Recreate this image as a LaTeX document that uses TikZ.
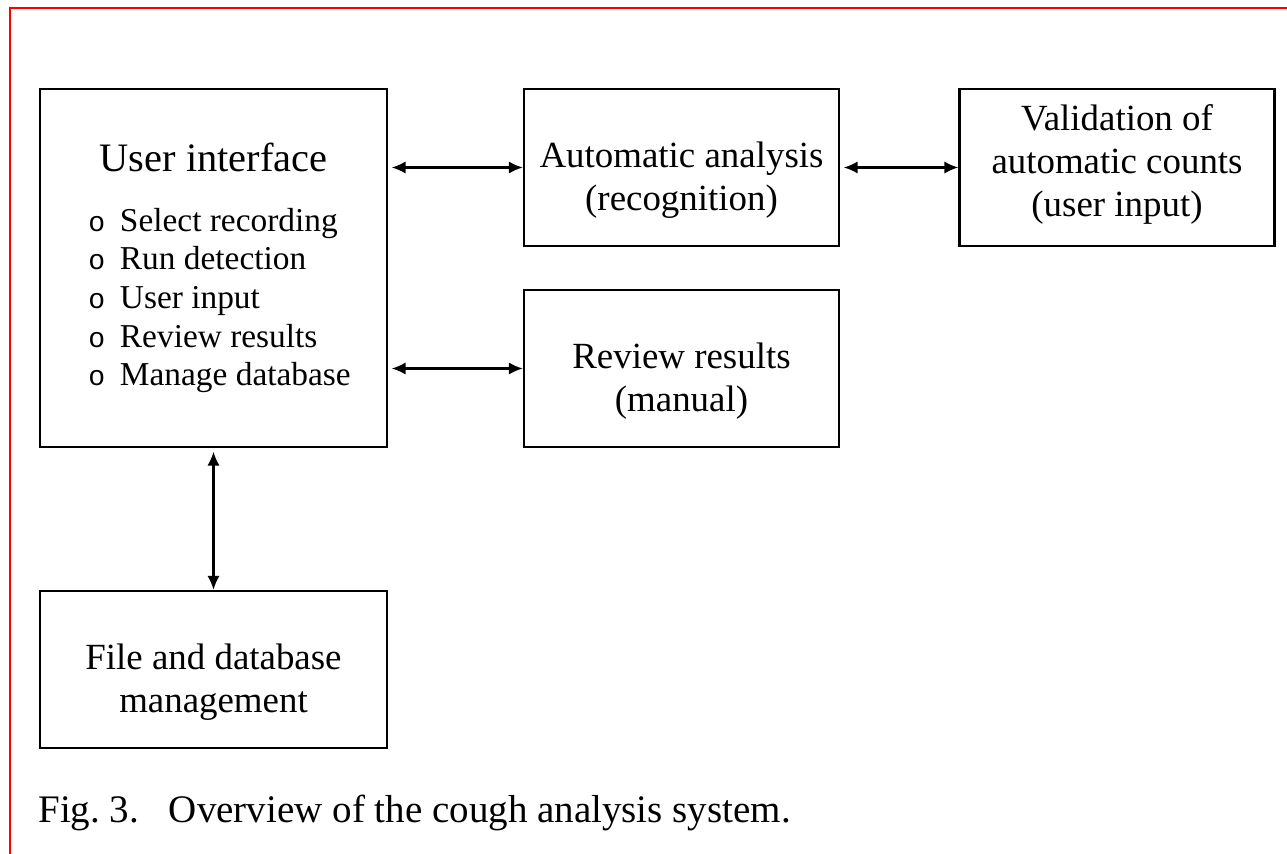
\documentclass[tikz,border=0pt]{standalone}
\usepackage{fontspec}
\setmainfont{Liberation Serif}
\newfontfamily\bulletfont{Liberation Mono}
\usetikzlibrary{arrows.meta, positioning}

\newcommand{\listbullet}{\makebox[18pt][l]{\fontsize{16}{16}\bulletfont o}}

\begin{document}
\begin{tikzpicture}[x=0.02cm, y=-0.02cm,
  box/.style={rectangle, draw, line width=1.2pt},
  boxtext/.style={align=center, font=\fontsize{21}{24.5}\selectfont},
  arrowline/.style={{Latex[length=8pt,width=7pt]}-{Latex[length=8pt,width=7pt]}, line width=1.4pt},
  frameline/.style={red, line width=1.2pt}
]
  \useasboundingbox (0,0) rectangle (1287,854);
  \draw[frameline] (10,854) -- (10,8) -- (1287,8);

  % boxes
  \node[box, minimum width=6.94cm, minimum height=7.16cm] (ui) at (213.5,268) {};
  \node[box, minimum width=6.3cm, minimum height=3.14cm] (auto) at (681.5,167.5) {};
  \node[box, minimum width=6.3cm, minimum height=3.14cm] (valid) at (1117,167.5) {};
  \node[box, minimum width=6.3cm, minimum height=3.14cm] (review) at (681.5,368.5) {};
  \node[box, minimum width=6.94cm, minimum height=3.14cm] (files) at (213.5,669.5) {};

  % texts
  \node[font=\fontsize{23}{26}\selectfont] (uititle) at (213.5,157) {User interface};
  \node[anchor=west, align=left, inner sep=0pt, font=\fontsize{19}{22}\selectfont] (uilist) at (88,300.5)
    {\listbullet Select recording\\
     \listbullet Run detection\\
     \listbullet User input\\
     \listbullet Review results\\
     \listbullet Manage database};
  \node[boxtext] (autotext) at (681.5,180) {Automatic analysis\\(recognition)};
  \node[boxtext] (validtext) at (1117,164.5) {Validation of\\automatic counts\\(user input)};
  \node[boxtext] (reviewtext) at (681.5,381) {Review results\\(manual)};
  \node[boxtext] (filestext) at (213.5,682) {File and database\\management};

  % connectors
  \draw[arrowline] ([xshift=2pt]ui.east |- auto.west) -- (auto.west);
  \draw[arrowline] ([xshift=2pt]auto.east) -- (valid.west);
  \draw[arrowline] ([xshift=2pt]ui.east |- review.west) -- (review.west);
  \draw[arrowline] ([yshift=-2pt]ui.south) -- (files.north);

  \node[anchor=base west, inner sep=0pt, font=\fontsize{22.2}{26}\selectfont] (caption) at (38,822)
    {Fig.\ 3.\hspace{17pt}Overview of the cough analysis system.};
\end{tikzpicture}
\end{document}
